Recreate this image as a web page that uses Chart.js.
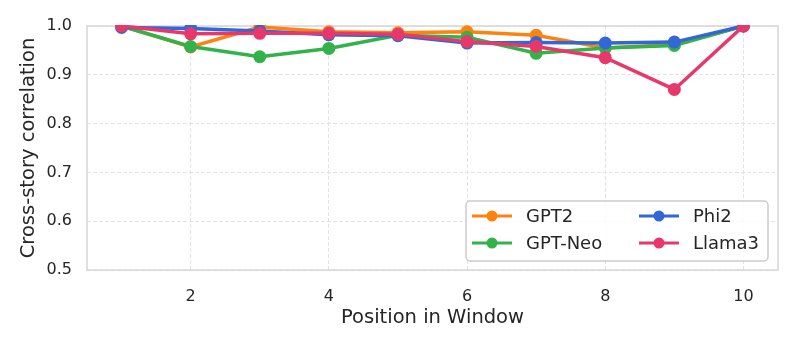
<!DOCTYPE html>
<html>
<head>
<meta charset="utf-8">
<script src="https://cdn.jsdelivr.net/npm/chart.js@4"></script>
<style>
    html, body { margin: 0; padding: 0; background: #ffffff; }
    #wrap { width: 797px; height: 348px; position: relative; }
</style>
</head>
<body>
<div id="wrap"><canvas id="chart" width="797" height="348"></canvas></div>
<script>
// Dados
const positions = [1, 2, 3, 4, 5, 6, 7, 8, 9, 10];
const gpt2 = [1.0, 0.957, 0.998, 0.988, 0.986, 0.988, 0.981, 0.955, 0.962, 1.0];
const gptNeo = [1.0, 0.958, 0.937, 0.954, 0.981, 0.977, 0.944, 0.955, 0.960, 1.0];
const phi2 = [0.997, 0.995, 0.990, 0.982, 0.980, 0.965, 0.966, 0.965, 0.967, 1.0];
const llama3 = [1.0, 0.984, 0.985, 0.985, 0.983, 0.968, 0.958, 0.935, 0.870, 1.0];
const xTicks = [2, 4, 6, 8, 10];

const seriesNames = ['GPT2', 'GPT-Neo', 'Phi2', 'Llama3'];
const seriesColors = ['#fd8311', '#33b24b', '#3467d6', '#e8386b'];
const seriesValues = [gpt2, gptNeo, phi2, llama3];

const textColor = '#262626';
const fontFamily = '"DejaVu Sans", sans-serif';

function toPoints(values) {
    return values.map((v, i) => ({ x: positions[i], y: v }));
}

// a última série fica por cima (como no original)
const datasets = seriesNames.map((name, i) => ({
    label: name,
    data: toPoints(seriesValues[i]),
    borderColor: seriesColors[i],
    backgroundColor: seriesColors[i],
    borderWidth: 3.5,
    pointRadius: 6.5,
    pointBorderWidth: 0,
    pointHoverRadius: 6.5,
    tension: 0,
    clip: 1,
    order: seriesNames.length - 1 - i
}));

// Moldura do gráfico (quatro lados)
const frame = {
    id: 'frame',
    beforeDatasetsDraw(chart) {
        const { ctx, chartArea: a } = chart;
        ctx.save();
        ctx.strokeStyle = '#d6d6d6';
        ctx.lineWidth = 1.5;
        ctx.strokeRect(a.left, a.top, a.right - a.left, a.bottom - a.top);
        ctx.restore();
    }
};

// Legenda dentro da área do gráfico, duas colunas
const insideLegend = {
    id: 'insideLegend',
    afterDatasetsDraw(chart) {
        const ctx = chart.ctx;
        const box = { x: 466, y: 201, w: 302, h: 60 };
        ctx.save();
        ctx.beginPath();
        ctx.roundRect(box.x, box.y, box.w, box.h, 4);
        ctx.fillStyle = 'rgba(255,255,255,0.85)';
        ctx.fill();
        ctx.strokeStyle = '#cccccc';
        ctx.lineWidth = 1.5;
        ctx.stroke();

        const cols = [472, 639];
        const rows = [216, 243];
        // ordem: coluna 1 = GPT2, GPT-Neo; coluna 2 = Phi2, Llama3
        seriesNames.forEach((name, i) => {
            const cx = cols[Math.floor(i / 2)];
            const cy = rows[i % 2];
            ctx.strokeStyle = seriesColors[i];
            ctx.lineWidth = 3;
            ctx.beginPath();
            ctx.moveTo(cx, cy);
            ctx.lineTo(cx + 40, cy);
            ctx.stroke();
            ctx.fillStyle = seriesColors[i];
            ctx.beginPath();
            ctx.arc(cx + 20, cy, 5.5, 0, Math.PI * 2);
            ctx.fill();
            ctx.fillStyle = textColor;
            ctx.font = '18px ' + fontFamily;
            ctx.textBaseline = 'middle';
            ctx.textAlign = 'left';
            ctx.fillText(name, cx + 54, cy + 1);
        });
        ctx.restore();
    }
};

new Chart(document.getElementById('chart'), {
    type: 'line',
    data: { datasets: datasets },
    options: {
        responsive: false,
        animation: false,
        layout: { padding: { top: 26, right: 19, left: 0, bottom: 0 } },
        plugins: {
            legend: { display: false },
            tooltip: { enabled: false }
        },
        scales: {
            x: {
                type: 'linear',
                min: 0.5,
                max: 10.5,
                afterBuildTicks(scale) {
                    scale.ticks = xTicks.map(v => ({ value: v }));
                },
                afterFit(scale) {
                    scale.height = 78;
                },
                grid: {
                    color: '#e3e3e3',
                    lineWidth: 1,
                    drawTicks: false
                },
                border: { display: false, dash: [4, 2] },
                ticks: {
                    color: textColor,
                    padding: 17,
                    font: { family: fontFamily, size: 16 }
                },
                title: {
                    display: true,
                    text: 'Position in Window',
                    color: textColor,
                    padding: { top: 0, bottom: 18 },
                    font: { family: fontFamily, size: 19.5 }
                }
            },
            y: {
                min: 0.5,
                max: 1.0,
                afterFit(scale) {
                    scale.width = 87;
                },
                grid: {
                    color: '#e3e3e3',
                    lineWidth: 1,
                    drawTicks: false
                },
                border: { display: false, dash: [4, 2] },
                ticks: {
                    stepSize: 0.1,
                    color: textColor,
                    padding: 15,
                    font: { family: fontFamily, size: 16 },
                    callback: (v) => v.toFixed(1)
                },
                title: {
                    display: true,
                    text: 'Cross-story correlation',
                    color: textColor,
                    padding: { top: 17, bottom: 0 },
                    font: { family: fontFamily, size: 19.5 }
                }
            }
        }
    },
    plugins: [frame, insideLegend]
});
</script>
</body>
</html>
